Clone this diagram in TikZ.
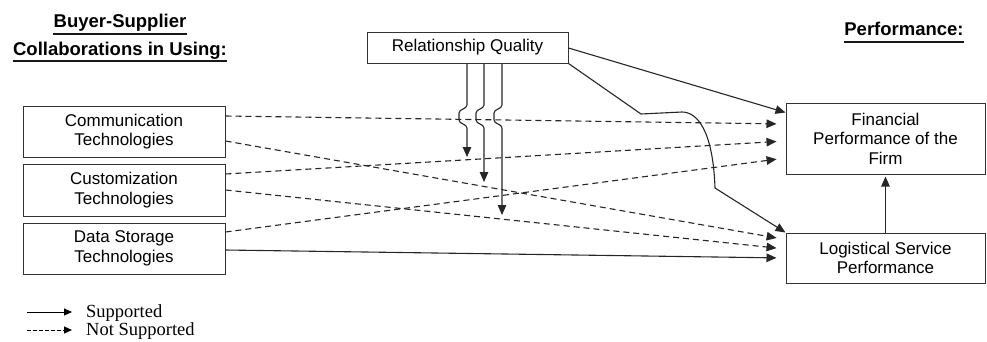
\documentclass[tikz,border=0pt]{standalone}
\usepackage{fontspec}
\setmainfont{Liberation Sans}
\newfontfamily\legendfont{Liberation Serif}
\usetikzlibrary{arrows.meta}
\tikzset{
  box/.style={draw=black!80, line width=1pt, inner sep=0pt, align=center,
    font=\fontsize{17}{19.5}\selectfont},
  head/.style={inner sep=0pt, anchor=base, font=\bfseries\fontsize{18.5}{22}\selectfont},
  uline/.style={line width=2pt, black!90},
  conn/.style={line width=1.1pt, black!85, -{Triangle[length=10pt,width=8.5pt]}},
  ns/.style={conn, dashed, dash pattern=on 6pt off 4pt, shorten >=9pt},
  sp/.style={conn, shorten >=9pt},
  legtxt/.style={inner sep=0pt, anchor=base west, font=\legendfont\fontsize{18.5}{20}\selectfont}
}
\begin{document}
\begin{tikzpicture}[x=1pt,y=-1pt]
\useasboundingbox (0,0) rectangle (987,341);
% headings
\node[head] (h1) at (120,27) {Buyer-Supplier};
\node[head] (h2) at (120,55) {Collaborations in Using:};
\node[head] (h3) at (904,35) {Performance:};
\draw[uline] ([yshift=-7pt]h1.base west) -- ([yshift=-7pt]h1.base east);
\draw[uline] ([yshift=-6pt]h2.base west) -- ([yshift=-6pt]h2.base east);
\draw[uline] ([yshift=-7pt]h3.base west) -- ([yshift=-7pt]h3.base east);
% boxes
\node[box, minimum width=202pt, minimum height=51pt] (comm) at (124,131.5) {Communication\\Technologies};
\node[box, minimum width=202pt, minimum height=52pt] (cust) at (124,190) {Customization\\Technologies};
\node[box, minimum width=202pt, minimum height=51pt] (data) at (124,248.5) {Data Storage\\Technologies};
\node[box, minimum width=201pt, minimum height=31pt] (rq) at (467.5,47.5) {Relationship Quality};
\node[box, minimum width=199pt, minimum height=71pt] (fin) at (885.5,138.5) {Financial\\Performance of the\\Firm};
\node[box, minimum width=199pt, minimum height=50pt] (log) at (885.5,258) {Logistical Service\\Performance};
% dashed (not supported)
\draw[ns] ([yshift=15.5pt]comm.east) -- ([yshift=14.5pt]fin.west);
\draw[ns] ([yshift=-9.5pt]comm.east) -- ([yshift=18.5pt]log.west);
\draw[ns] ([yshift=16pt]cust.east) -- ([yshift=-2.5pt]fin.west);
\draw[ns] ([yshift=0pt]cust.east) -- ([yshift=9pt]log.west);
\draw[ns] ([yshift=16.5pt]data.east) -- ([yshift=-19.5pt]fin.west);
% solid (supported)
\draw[sp] ([yshift=-1.5pt]data.east) -- (log.west);
\draw[conn] ([yshift=-0.5pt]rq.east) -- ([yshift=-10pt]fin.north west);
\draw[conn] (rq.south east) -- (641,114) -- (682,112)
  .. controls (697,112) and (713,130) .. (715,188) -- (log.north west);
\draw[conn, shorten >=2pt] (log.north) -- (fin.south);
% moderating arrows from Relationship Quality with hops
\foreach \dx/\x/\ey in {-0.5/467/157, 16.5/484/182, 34.5/502/215}{
  \draw[conn] ([xshift=\dx pt]rq.south) -- (\x,105)
    .. controls (\x,109) and ({\x-8},109) .. ({\x-8},113) -- ({\x-8},120)
    .. controls ({\x-8},124) and (\x,124) .. (\x,128) -- (\x,\ey);
}
% legend
\coordinate (l1a) at (27,312); \coordinate (l1b) at (72,312);
\coordinate (l2a) at (27,330); \coordinate (l2b) at (72,330);
\draw[line width=1pt, -{Triangle[length=8pt,width=7pt]}] (l1a) -- (l1b);
\draw[line width=1pt, dash pattern=on 3.5pt off 2.5pt, -{Triangle[length=8pt,width=7pt]}] (l2a) -- (l2b);
\node[legtxt] (lt1) at (86,317) {Supported};
\node[legtxt] (lt2) at (86,335) {Not Supported};
\end{tikzpicture}
\end{document}
